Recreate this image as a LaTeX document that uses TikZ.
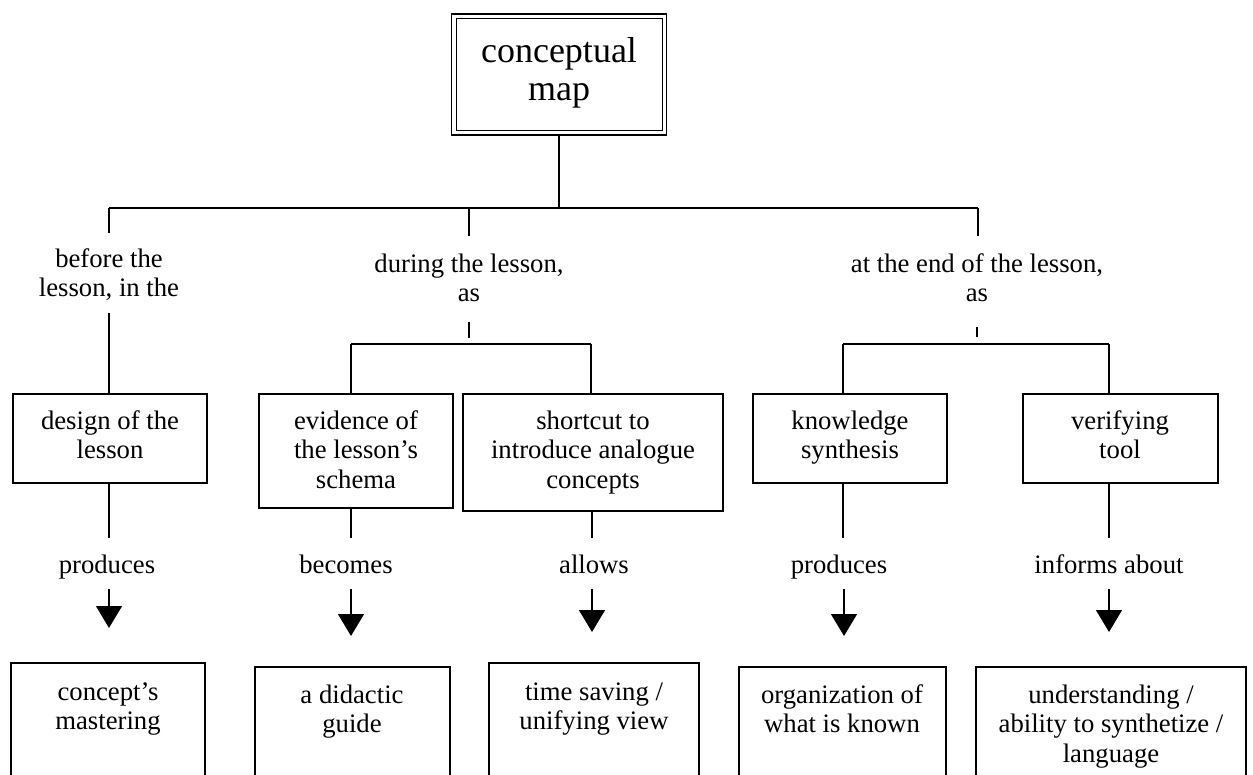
\documentclass[tikz,border=0pt]{standalone}
\usepackage{fontspec}
\setmainfont{Liberation Serif}
\usetikzlibrary{arrows.meta}
\newcommand{\ml}[1]{\begin{tabular}[t]{@{}c@{}}#1\end{tabular}}
\begin{document}
\begin{tikzpicture}[x=1pt,y=-1pt,
  every node/.style={inner sep=0pt, outer sep=0pt},
  box/.style={draw, line width=1.4pt, anchor=north west},
  lbl/.style={anchor=base, font=\fontsize{26.7}{29.5}\selectfont},
  conn/.style={line width=1.4pt},
  arr/.style={line width=1.4pt, -{Triangle[length=22pt,width=26pt]}},
]
\useasboundingbox (0,0) rectangle (1253,774);
\clip (0,0) rectangle (1253,774);

% top box (double frame: thick outer, thin inner)
\node[draw, line width=1.8pt, minimum width=215pt, minimum height=121pt, anchor=north west] (cmbox) at (451.5,14) {};
\draw[line width=0.9pt] ([shift={(4.5,4.5)}]cmbox.north west) rectangle ([shift={(-4.5,-4.5)}]cmbox.south east);
\node[lbl, font=\fontsize{36}{38}\selectfont] (cmtext) at (559,62) {\ml{conceptual\\map}};

\coordinate (j0) at (559,208);
\coordinate (hl) at (109,208);
\coordinate (hm) at (469,208);
\coordinate (hr) at (978,208);
\coordinate (la) at (109,233);
\coordinate (ma) at (469,236);
\coordinate (ra) at (978,236);
\draw[conn] (cmbox.south) -- (j0);
\draw[conn] (hl) -- (hr);
\draw[conn] (hl) -- (la);
\draw[conn] (hm) -- (ma);
\draw[conn] (hr) -- (ra);

% first level labels
\node[lbl] (before) at (109,267) {\ml{before the\\lesson, in the}};
\node[lbl] (during) at (469,272) {\ml{during the lesson,\\as}};
\node[lbl] (atend) at (977,272) {\ml{at the end of the lesson,\\as}};

% row 1 boxes
\node[box, minimum width=194pt, minimum height=89pt] (design) at (13,394) {};
\node[box, minimum width=194pt, minimum height=114pt] (evid) at (259,394) {};
\node[box, minimum width=260pt, minimum height=117pt] (short) at (463,394) {};
\node[box, minimum width=194pt, minimum height=89pt] (know) at (753,394) {};
\node[box, minimum width=195pt, minimum height=89pt] (verif) at (1023,394) {};

\node[lbl] (tdesign) at (110,429) {\ml{design of the\\lesson}};
\node[lbl] (tevid) at (356,429) {\ml{evidence of\\the lesson's\\schema}};
\node[lbl] (tshort) at (593,429) {\ml{shortcut to\\introduce analogue\\concepts}};
\node[lbl] (tknow) at (850,429) {\ml{knowledge\\synthesis}};
\node[lbl] (tverif) at (1120,429) {\ml{verifying\\tool}};

% left branch
\coordinate (lb) at (109,313);
\draw[conn] (lb) -- (lb |- design.north);

% middle branch
\coordinate (mt1) at (469,322);
\coordinate (mt2) at (469,338);
\draw[conn] (mt1) -- (mt2);
\coordinate (m1) at (351,344);
\coordinate (m2) at (591,344);
\draw[conn] (m1) -- (m2);
\draw[conn] (m1) -- (m1 |- evid.north);
\draw[conn] (m2) -- (m2 |- short.north);

% right branch
\coordinate (rt1) at (977,327);
\coordinate (rt2) at (977,337);
\draw[conn] (rt1) -- (rt2);
\coordinate (r1) at (843,344);
\coordinate (r2) at (1109,344);
\draw[conn] (r1) -- (r2);
\draw[conn] (r1) -- (r1 |- know.north);
\draw[conn] (r2) -- (r2 |- verif.north);

% verticals below row 1
\coordinate (v1) at (109,538);
\coordinate (v2) at (351,538);
\coordinate (v3) at (592,538);
\coordinate (v4) at (843,538);
\coordinate (v5) at (1109,538);
\draw[conn] (v1 |- design.south) -- (v1);
\draw[conn] (v2 |- evid.south) -- (v2);
\draw[conn] (v3 |- short.south) -- (v3);
\draw[conn] (v4 |- know.south) -- (v4);
\draw[conn] (v5 |- verif.south) -- (v5);

% second level labels
\node[lbl] (p1) at (107,573) {produces};
\node[lbl] (p2) at (346,573) {becomes};
\node[lbl] (p3) at (594,573) {allows};
\node[lbl] (p4) at (839,573) {produces};
\node[lbl] (p5) at (1109,573) {informs about};

% arrows
\coordinate (a1s) at (109,589); \coordinate (a1e) at (109,628);
\coordinate (a2s) at (351,589); \coordinate (a2e) at (351,636);
\coordinate (a3s) at (592,589); \coordinate (a3e) at (592,632);
\coordinate (a4s) at (844,589); \coordinate (a4e) at (844,636);
\coordinate (a5s) at (1109,589); \coordinate (a5e) at (1109,632);
\draw[arr] (a1s) -- (a1e);
\draw[arr] (a2s) -- (a2e);
\draw[arr] (a3s) -- (a3e);
\draw[arr] (a4s) -- (a4e);
\draw[arr] (a5s) -- (a5e);

% bottom boxes
\node[box, minimum width=194pt, minimum height=150pt] (c1) at (11,663) {};
\node[box, minimum width=195pt, minimum height=150pt] (c2) at (255,667) {};
\node[box, minimum width=210pt, minimum height=150pt] (c3) at (489,663) {};
\node[box, minimum width=207pt, minimum height=150pt] (c4) at (739,667) {};
\node[box, minimum width=270pt, minimum height=150pt] (c5) at (976,667) {};

\node[lbl] (tc1) at (108,700) {\ml{concept's\\mastering}};
\node[lbl] (tc2) at (352,703) {\ml{a didactic\\guide}};
\node[lbl] (tc3) at (594,700) {\ml{time saving /\\unifying view}};
\node[lbl] (tc4) at (842,703) {\ml{organization of\\what is known}};
\node[lbl] (tc5) at (1111,703) {\ml{understanding /\\ability to synthetize /\\language}};
\end{tikzpicture}
\end{document}
